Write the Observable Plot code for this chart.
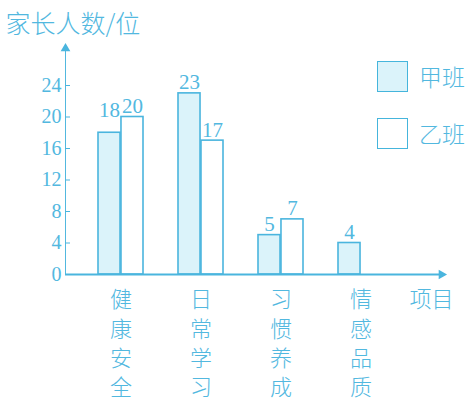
<!DOCTYPE html>
<html><head><meta charset="utf-8">
<script src="https://cdn.jsdelivr.net/npm/d3@7"></script>
<script src="https://cdn.jsdelivr.net/npm/@observablehq/plot@0.6"></script>
<style>
body{margin:0;background:#fff;}
#wrap{position:relative;width:470px;height:401px;overflow:hidden;}
.key{position:absolute;box-sizing:border-box;width:31px;height:31px;border:1.8px solid #45b5dc;}
.lab{position:absolute;font-family:"Noto Sans CJK SC",sans-serif;font-weight:300;font-size:23px;line-height:1;color:#52b8df;white-space:nowrap;}
</style></head><body><div id="wrap"></div>
<script>
const categories = ["健康安全", "日常学习", "习惯养成", "情感品质"];
const classes = ["甲班", "乙班"];
const valuesJia = [18, 23, 5, 4];
const valuesYi = [20, 17, 7, null];
const yTicks = [0, 4, 8, 12, 16, 20, 24];
const yTitle = "家长人数/位";
const xTitle = "项目";

const AX = "#4ab5de", TXT = "#52b8df", FILL = "#dbf3fa";
const CJK = "'Noto Sans CJK SC', sans-serif";
const NUM = "'Liberation Serif', 'DejaVu Serif', serif";

const rows = [];
categories.forEach((c, i) => {
  rows.push({category: c, cls: classes[0], value: valuesJia[i], other: valuesYi[i]});
  rows.push({category: c, cls: classes[1], value: valuesYi[i], other: valuesJia[i]});
});
const data = rows.filter(d => d.value != null);
const jia = data.filter(d => d.cls === classes[0]);
const yi = data.filter(d => d.cls === classes[1]);

const W = 470, H = 401, mL = 65, mR = 29, mT = 48, mB = 127;
const pIn = 0.432, pOut = 0.54, align = 0.36;
const step = (W - mL - mR) / (categories.length - pIn + 2 * pOut);
const bw = step * (1 - pIn), half = bw / 2;

// a 甲班 label just left of a slightly taller 乙班 bar is lifted near its neighbour's label
const labelJiaY = d => (d.other != null && d.other > d.value && d.value >= 10) ? d.other - 0.5 : d.value;

const chart = Plot.plot({
  width: W, height: H,
  marginLeft: mL, marginRight: mR, marginTop: mT, marginBottom: mB,
  style: {fontFamily: NUM, fontSize: "20px", color: TXT, background: "transparent"},
  x: {domain: categories, paddingInner: pIn, paddingOuter: pOut, align},
  y: {domain: [0, (H - mT - mB) / 7.875], ticks: yTicks, tickSize: -5, tickPadding: 9, line: true, label: null},
  marks: [
    Plot.barY(jia, {x: "category", y: "value", insetRight: half, fill: FILL, stroke: AX, strokeWidth: 1.6}),
    Plot.barY(yi, {x: "category", y: "value", insetLeft: half, fill: "white", stroke: AX, strokeWidth: 1.6}),
    Plot.ruleY([0], {stroke: AX, strokeWidth: 1.8}),
    Plot.dot([0], {frameAnchor: "top-left", symbol: "triangle", r: 3.6, fill: AX, stroke: "none"}),
    Plot.dot([0], {y: d => d, frameAnchor: "right", symbol: "triangle", rotate: 90, r: 3.6, fill: AX, stroke: "none"}),
    Plot.text(jia, {x: "category", y: labelJiaY, text: d => String(d.value), dx: -half / 2, lineAnchor: "bottom", dy: -4, fill: TXT, fontSize: 21, fontFamily: NUM}),
    Plot.text(yi, {x: "category", y: "value", text: d => String(d.value), dx: half / 2, lineAnchor: "bottom", dy: -4, fill: TXT, fontSize: 21, fontFamily: NUM}),
    Plot.axisX({tickSize: 0, tickPadding: 12, tickFormat: d => d.split("").join("\n"), fontSize: 22, lineHeight: 1.33, fontFamily: CJK, fontWeight: 300, fill: TXT, label: null}),
    Plot.text([yTitle], {frameAnchor: "top-left", dx: -60, dy: -33, textAnchor: "start", fontSize: 25, fontFamily: CJK, fontWeight: 300, fill: TXT}),
    Plot.text([xTitle], {frameAnchor: "bottom-right", dx: 12, dy: 32, textAnchor: "end", fontSize: 22, fontFamily: CJK, fontWeight: 300, fill: TXT})
  ]
});
const wrap = document.getElementById("wrap");
wrap.appendChild(chart);
chart.querySelectorAll("[aria-label='y-axis tick'] path, [aria-label='y-axis line'] line").forEach(e => e.setAttribute("stroke", AX));

const legend = [
  {name: classes[0], fill: FILL, top: 61},
  {name: classes[1], fill: "white", top: 118}
];
legend.forEach(l => {
  const k = document.createElement("div");
  k.className = "key"; k.style.left = "377px"; k.style.top = l.top + "px"; k.style.background = l.fill;
  wrap.appendChild(k);
  const t = document.createElement("div");
  t.className = "lab"; t.style.left = "419px"; t.style.top = (l.top + 4) + "px"; t.textContent = l.name;
  wrap.appendChild(t);
});
</script></body></html>
